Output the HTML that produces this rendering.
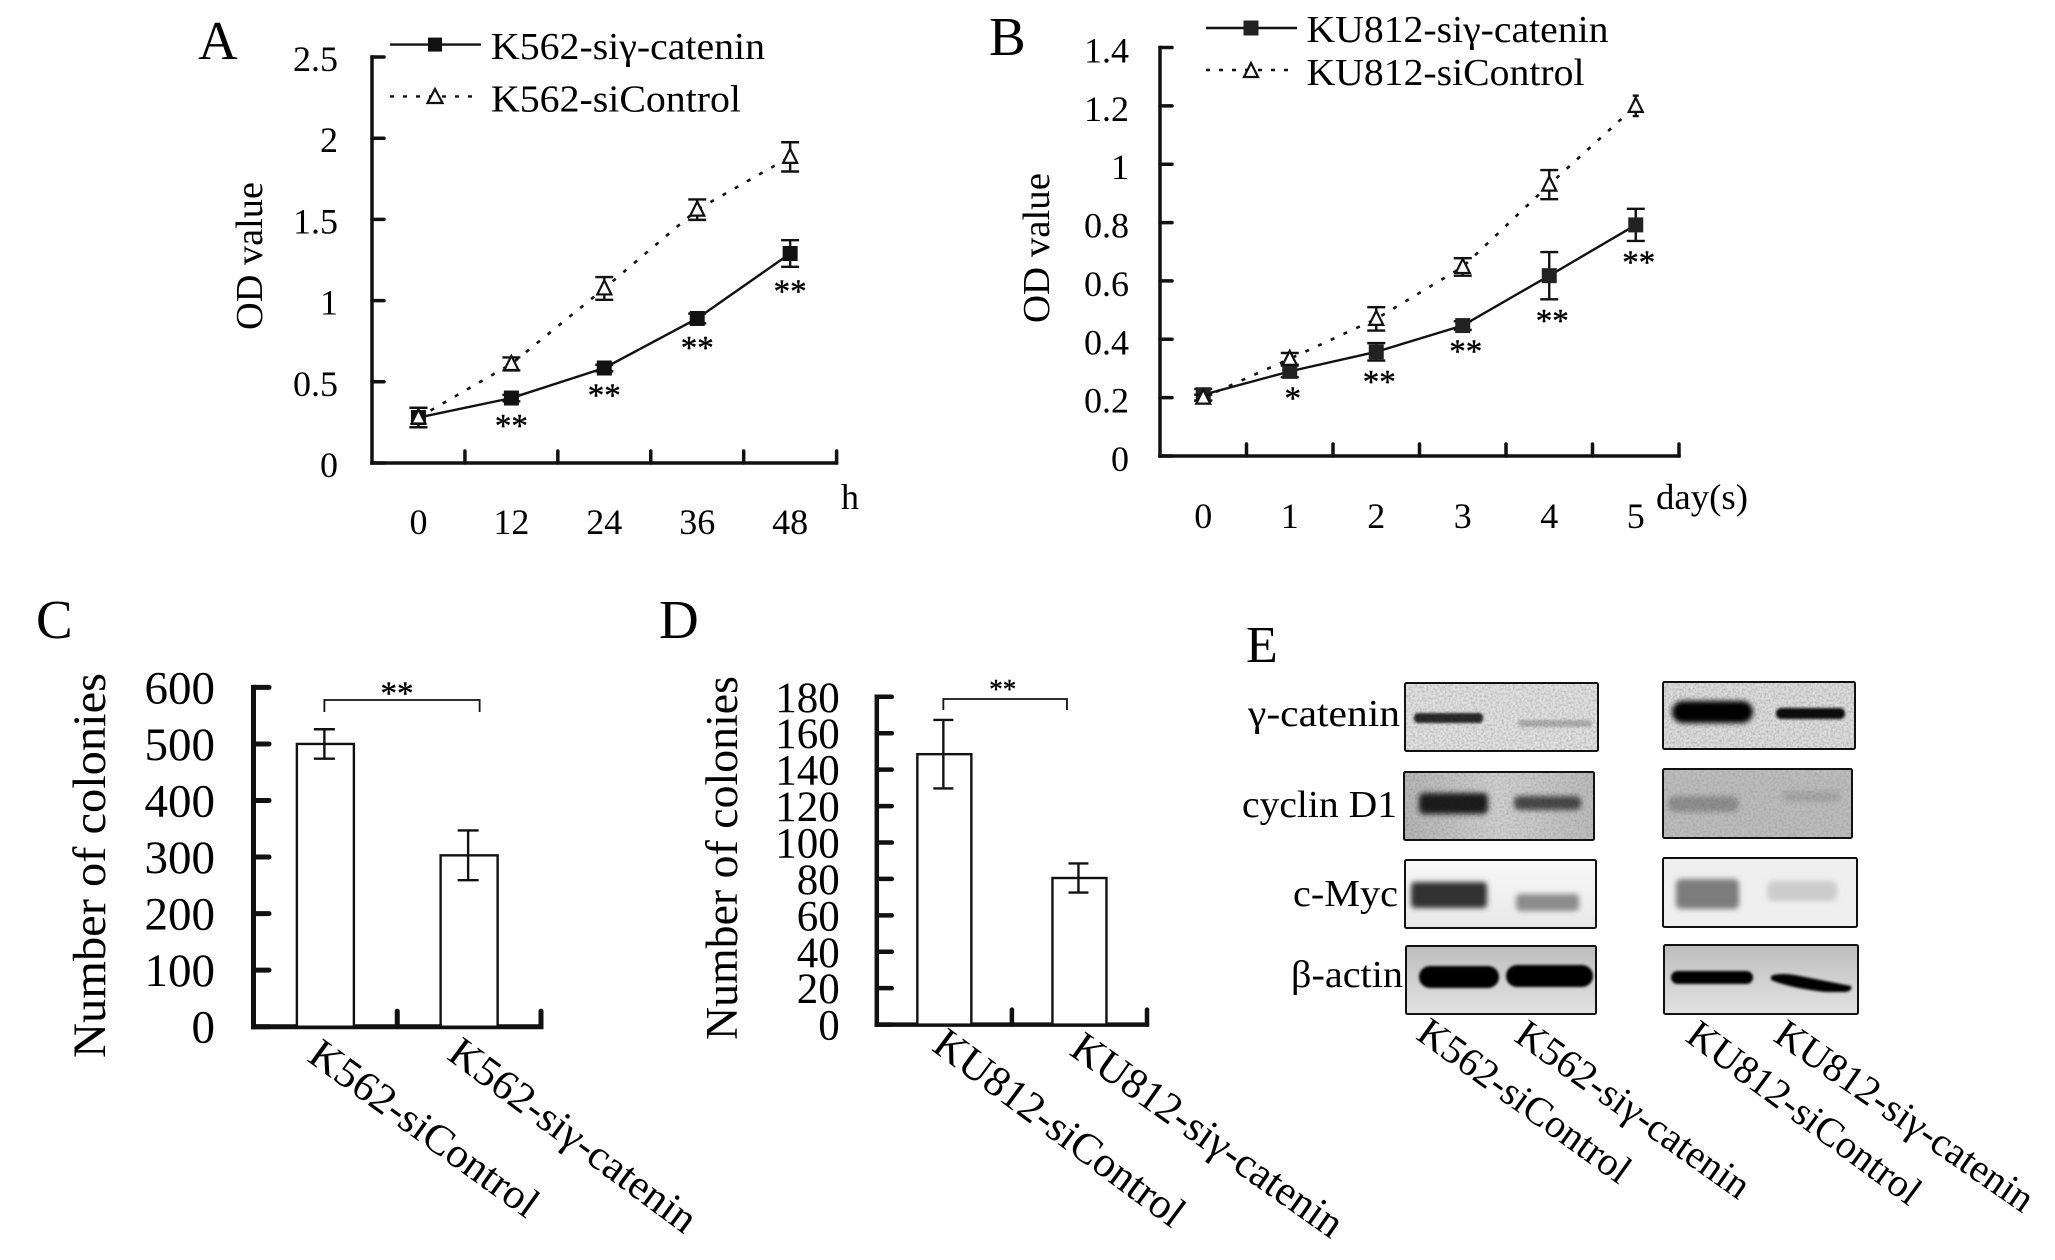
<!DOCTYPE html>
<html lang="en">
<head>
<meta charset="utf-8">
<title>γ-catenin knockdown figure</title>
<style>
html,body{margin:0;padding:0;background:#fff;}
svg{display:block;}
text{font-family:"Liberation Serif",serif;fill:#000;}
</style>
</head>
<body>
<svg id="figure" xmlns="http://www.w3.org/2000/svg" width="2055" height="1260" viewBox="0 0 2055 1260">
  <defs>
    <filter id="blur-strong" x="-30%" y="-80%" width="160%" height="260%"><feGaussianBlur stdDeviation="2.6"/></filter>
    <filter id="blur-soft" x="-30%" y="-80%" width="160%" height="260%"><feGaussianBlur stdDeviation="1.4"/></filter>
    <filter id="grain" x="0" y="0" width="100%" height="100%">
      <feTurbulence type="fractalNoise" baseFrequency="0.45" numOctaves="2" seed="7"/>
      <feColorMatrix type="matrix" values="0 0 0 0 0  0 0 0 0 0  0 0 0 0 0  0 0 0 1.1 -0.42"/>
      <feComposite in2="SourceGraphic" operator="in"/>
    </filter>
    <linearGradient id="actin-bg" x1="0" y1="0" x2="0" y2="1"><stop offset="0" stop-color="#bdbdbd"/><stop offset="0.5" stop-color="#d0d0d0"/><stop offset="1" stop-color="#e2e2e2"/></linearGradient>
    <linearGradient id="myc-bg" x1="0" y1="0" x2="0" y2="1"><stop offset="0" stop-color="#f8f8f8"/><stop offset="1" stop-color="#e8e8e8"/></linearGradient>
    <linearGradient id="cyclin-bg" x1="0" y1="0" x2="1" y2="0"><stop offset="0" stop-color="#b4b4b4"/><stop offset="0.5" stop-color="#cfcfcf"/><stop offset="1" stop-color="#bcbcbc"/></linearGradient>
  </defs>

  <text x="198" y="59" font-size="55">A</text>
  <text x="989" y="55" font-size="55">B</text>
  <text x="36" y="638" font-size="55">C</text>
  <text x="659" y="638" font-size="55">D</text>
  <text x="1246" y="662" font-size="52">E</text>

  <g id="panel-a">
    <text transform="translate(262 330) rotate(-90)" font-size="38" textLength="148" lengthAdjust="spacingAndGlyphs">OD value</text>
    <text x="841" y="509" font-size="36">h</text>
    <g>
      <line x1="390" y1="44.6" x2="481" y2="44.6" stroke="#111" stroke-width="2.4"/>
      <rect x="428" y="37.6" width="14" height="14" fill="#111"/>
      <text x="491" y="59" font-size="38" textLength="274" lengthAdjust="spacingAndGlyphs">K562-siγ-catenin</text>
      <line x1="390" y1="96.4" x2="481" y2="96.4" stroke="#111" stroke-width="2.4" stroke-dasharray="4 9"/>
      <polygon points="435,89 442.5,103 427.5,103" fill="#fff" stroke="#111" stroke-width="2.2"/>
      <text x="491" y="111.5" font-size="38" textLength="250" lengthAdjust="spacingAndGlyphs">K562-siControl</text>
    </g>
  </g>

  <g id="panel-b">
    <text transform="translate(1049 323) rotate(-90)" font-size="38" textLength="150" lengthAdjust="spacingAndGlyphs">OD value</text>
    <text x="1656" y="509" font-size="36" textLength="92" lengthAdjust="spacingAndGlyphs">day(s)</text>
    <g>
      <line x1="1206" y1="28" x2="1297" y2="28" stroke="#111" stroke-width="2.4"/>
      <rect x="1243.5" y="20.5" width="15" height="15" fill="#222"/>
      <text x="1306.5" y="42" font-size="38" textLength="302" lengthAdjust="spacingAndGlyphs">KU812-siγ-catenin</text>
      <line x1="1206" y1="70" x2="1297" y2="70" stroke="#111" stroke-width="2.4" stroke-dasharray="4 9"/>
      <polygon points="1251,63 1258,77 1244,77" fill="#fff" stroke="#111" stroke-width="2.2"/>
      <text x="1306.5" y="85" font-size="38" textLength="278" lengthAdjust="spacingAndGlyphs">KU812-siControl</text>
    </g>
  </g>

  <g id="panel-c">
    <text transform="translate(105 1058) rotate(-90)" font-size="47" textLength="385" lengthAdjust="spacingAndGlyphs">Number of colonies</text>
  </g>

  <g id="panel-d">
    <text transform="translate(737 1040) rotate(-90)" font-size="45" textLength="364" lengthAdjust="spacingAndGlyphs">Number of colonies</text>
  </g>

  <g id="panel-e">
    <text x="1248" y="726" font-size="38" textLength="152" lengthAdjust="spacingAndGlyphs">γ-catenin</text>
    <text x="1242" y="817" font-size="38" textLength="155" lengthAdjust="spacingAndGlyphs">cyclin D1</text>
    <text x="1293" y="906" font-size="38" textLength="105" lengthAdjust="spacingAndGlyphs">c-Myc</text>
    <text x="1291" y="987" font-size="38" textLength="112" lengthAdjust="spacingAndGlyphs">β-actin</text>

    <g>
      <rect x="1405" y="683" width="193" height="68" fill="#e0e0e0"/>
      <rect x="1414" y="713" width="69" height="10" rx="4" fill="#2a2a2a" filter="url(#blur-soft)"/>
      <rect x="1518" y="720" width="74" height="7" rx="3" fill="#b0b0b0" filter="url(#blur-soft)"/>
      <rect x="1405" y="683" width="193" height="68" fill="#000" opacity="0.35" filter="url(#grain)"/>
      <rect x="1405" y="683" width="193" height="68" rx="1.5" fill="none" stroke="#111" stroke-width="2"/>
    </g>
    <g>
      <rect x="1404" y="772" width="190" height="68" fill="url(#cyclin-bg)"/>
      <rect x="1419" y="793" width="69" height="21" rx="5" fill="#1c1c1c" filter="url(#blur-strong)"/>
      <rect x="1514" y="796" width="67" height="14" rx="5" fill="#4a4a4a" filter="url(#blur-strong)"/>
      <rect x="1404" y="772" width="190" height="68" fill="#000" opacity="0.25" filter="url(#grain)"/>
      <rect x="1404" y="772" width="190" height="68" rx="1.5" fill="none" stroke="#111" stroke-width="2"/>
    </g>
    <g>
      <rect x="1405" y="860" width="191" height="68" fill="url(#myc-bg)"/>
      <rect x="1411" y="882" width="76" height="26" rx="4" fill="#333" filter="url(#blur-strong)"/>
      <rect x="1516" y="894" width="63" height="17" rx="4" fill="#8c8c8c" filter="url(#blur-strong)"/>
      <rect x="1405" y="860" width="191" height="68" rx="1.5" fill="none" stroke="#111" stroke-width="2"/>
    </g>
    <g>
      <rect x="1406" y="946" width="190" height="68" fill="url(#actin-bg)"/>
      <rect x="1419" y="966" width="80" height="22" rx="11" fill="#000" filter="url(#blur-soft)"/>
      <rect x="1506" y="965" width="87" height="22" rx="11" fill="#000" filter="url(#blur-soft)"/>
      <rect x="1406" y="946" width="190" height="68" rx="1.5" fill="none" stroke="#111" stroke-width="2"/>
    </g>

    <g>
      <rect x="1663" y="682" width="192" height="67" fill="#dcdcdc"/>
      <rect x="1672" y="701" width="81" height="22" rx="11" fill="#000" filter="url(#blur-strong)"/>
      <rect x="1776" y="708" width="69" height="11" rx="5" fill="#111" filter="url(#blur-soft)"/>
      <rect x="1663" y="682" width="192" height="67" fill="#000" opacity="0.35" filter="url(#grain)"/>
      <rect x="1663" y="682" width="192" height="67" rx="1.5" fill="none" stroke="#111" stroke-width="2"/>
    </g>
    <g>
      <rect x="1663" y="769" width="189" height="69" fill="#bcbcbc"/>
      <rect x="1668" y="796" width="71" height="16" rx="7" fill="#8e8e8e" filter="url(#blur-strong)"/>
      <rect x="1783" y="791" width="57" height="11" rx="5" fill="#a6a6a6" filter="url(#blur-strong)"/>
      <rect x="1663" y="769" width="189" height="69" fill="#000" opacity="0.2" filter="url(#grain)"/>
      <rect x="1663" y="769" width="189" height="69" rx="1.5" fill="none" stroke="#111" stroke-width="2"/>
    </g>
    <g>
      <rect x="1663" y="858" width="194" height="69" fill="#efefef"/>
      <rect x="1676" y="879" width="63" height="30" rx="5" fill="#7c7c7c" filter="url(#blur-strong)"/>
      <rect x="1767" y="881" width="70" height="20" rx="6" fill="#cccccc" filter="url(#blur-strong)"/>
      <rect x="1663" y="858" width="194" height="69" rx="1.5" fill="none" stroke="#111" stroke-width="2"/>
    </g>
    <g>
      <rect x="1664" y="945" width="194" height="69" fill="url(#actin-bg)"/>
      <rect x="1671" y="971" width="82" height="13" rx="6.5" fill="#000" filter="url(#blur-soft)"/>
      <path d="M1771 976 Q1780 972 1800 976 L1851 986 Q1853 991 1845 992 L1825 992 Q1790 988 1771 980 Z" fill="#000" filter="url(#blur-soft)"/>
      <rect x="1664" y="945" width="194" height="69" rx="1.5" fill="none" stroke="#111" stroke-width="2"/>
    </g>

    <text transform="translate(1414.6 1038) rotate(35.7)" font-size="40" textLength="252" lengthAdjust="spacingAndGlyphs">K562-siControl</text>
    <text transform="translate(1512.8 1040) rotate(35.4)" font-size="40" textLength="277" lengthAdjust="spacingAndGlyphs">K562-siγ-catenin</text>
    <text transform="translate(1684 1040) rotate(36.5)" font-size="40" textLength="280" lengthAdjust="spacingAndGlyphs">KU812-siControl</text>
    <text transform="translate(1772 1040) rotate(34.7)" font-size="40" textLength="305" lengthAdjust="spacingAndGlyphs">KU812-siγ-catenin</text>
  </g>
</svg>

<script>
const panelACategories = ['0', '12', '24', '36', '48'];
const panelAYTicks = [0, 0.5, 1, 1.5, 2, 2.5];
const panelASiValues = [0.28, 0.40, 0.585, 0.89, 1.29];
const panelASiErrors = [0.06, 0.02, 0.02, 0.03, 0.082];
const panelAControlValues = [0.28, 0.61, 1.075, 1.56, 1.885];
const panelAControlErrors = [0.06, 0.04, 0.07, 0.063, 0.09];
const panelASignificance = ['', '**', '**', '**', '**'];

const panelBCategories = ['0', '1', '2', '3', '4', '5'];
const panelBYTicks = [0, 0.2, 0.4, 0.6, 0.8, 1, 1.2, 1.4];
const panelBSiValues = [0.21, 0.29, 0.357, 0.447, 0.618, 0.792];
const panelBSiErrors = [0.02, 0.02, 0.03, 0.015, 0.081, 0.055];
const panelBControlValues = [0.2, 0.333, 0.47, 0.648, 0.93, 1.2];
const panelBControlErrors = [0.01, 0.02, 0.04, 0.03, 0.05, 0.035];
const panelBSignificance = ['', '*', '**', '**', '**', '**'];

const panelCCategories = ['K562-siControl', 'K562-siγ-catenin'];
const panelCYTicks = [0, 100, 200, 300, 400, 500, 600];
const panelCValues = [500, 303];
const panelCErrors = [26, 44];

const panelDCategories = ['KU812-siControl', 'KU812-siγ-catenin'];
const panelDYTicks = [0, 20, 40, 60, 80, 100, 120, 140, 160, 180];
const panelDValues = [148.5, 80.5];
const panelDErrors = [18.8, 8];

const SVG_NS = 'http://www.w3.org/2000/svg';

function make(parent, tag, attrs, content) {
  const node = document.createElementNS(SVG_NS, tag);
  Object.keys(attrs).forEach(function (key) { node.setAttribute(key, attrs[key]); });
  if (content !== undefined) node.textContent = content;
  parent.appendChild(node);
  return node;
}

function linearY(cfg) {
  const span = cfg.yBase - cfg.yTop;
  const maxTick = cfg.yTicks[cfg.yTicks.length - 1];
  return function (v) { return cfg.yBase - (v / maxTick) * span; };
}

function drawAxes(parent, cfg, y, prefix) {
  const n = cfg.categories.length;
  const band = (cfg.x1 - cfg.x0) / n;

  const yAxis = make(parent, 'line', { x1: cfg.x0, y1: cfg.yTop, x2: cfg.x0, y2: cfg.yBase, stroke: '#111', 'stroke-width': cfg.axisWidth, 'stroke-linecap': 'square' });
  
  

  const xAxis = make(parent, 'line', { x1: cfg.x0, y1: cfg.yBase, x2: cfg.x1, y2: cfg.yBase, stroke: '#111', 'stroke-width': cfg.axisWidth, 'stroke-linecap': 'square' });
  
  

  cfg.yTicks.forEach(function (t) {
    const mark = make(parent, 'line', { x1: cfg.x0, y1: y(t), x2: cfg.x0 + cfg.tickLength, y2: y(t), stroke: '#111', 'stroke-width': cfg.axisWidth, 'stroke-linecap': 'round' });
    
    

    const label = make(parent, 'text', { x: cfg.labelRight, y: y(t) + cfg.labelDrop, 'font-size': cfg.tickFont, 'text-anchor': 'end' }, String(t));
    
    
  });

  for (let i = 1; i <= n; i++) {
    const tx = cfg.x0 + band * i;
    const mark = make(parent, 'line', { x1: tx, y1: cfg.yBase, x2: tx, y2: cfg.yBase - cfg.tickLength, stroke: '#111', 'stroke-width': cfg.axisWidth, 'stroke-linecap': 'round' });
    
    
  }
  return band;
}

function drawErrorBar(parent, cx, top, bottom, capHalf, name) {
  const group = make(parent, 'g', {});
  
  
  make(group, 'line', { x1: cx, y1: top, x2: cx, y2: bottom, stroke: '#111', 'stroke-width': 2.4 });
  make(group, 'line', { x1: cx - capHalf, y1: top, x2: cx + capHalf, y2: top, stroke: '#111', 'stroke-width': 2.4 });
  make(group, 'line', { x1: cx - capHalf, y1: bottom, x2: cx + capHalf, y2: bottom, stroke: '#111', 'stroke-width': 2.4 });
}

function drawLineChart(cfg) {
  const parent = document.getElementById(cfg.rootId);
  const y = linearY(cfg);
  const band = drawAxes(parent, cfg, y, cfg.prefix);
  const x = function (i) { return cfg.x0 + band * (i + 0.5); };

  cfg.categories.forEach(function (c, i) {
    const label = make(parent, 'text', { x: x(i), y: cfg.xLabelY, 'font-size': cfg.tickFont, 'text-anchor': 'middle' }, c);
    
    
  });

  const siPoints = cfg.siValues.map(function (v, i) { return x(i) + ',' + y(v); }).join(' ');
  const siLine = make(parent, 'polyline', { points: siPoints, fill: 'none', stroke: '#111', 'stroke-width': 2.4 });
  
  

  const controlPoints = cfg.controlValues.map(function (v, i) { return x(i) + ',' + y(v); }).join(' ');
  const controlLine = make(parent, 'polyline', { points: controlPoints, fill: 'none', stroke: '#111', 'stroke-width': 2.6, 'stroke-dasharray': '4 10' });
  
  

  cfg.siValues.forEach(function (v, i) {
    drawErrorBar(parent, x(i), y(v + cfg.siErrors[i]), y(v - cfg.siErrors[i]), 9, cfg.prefix + '-si-gamma-error-bar');
    const point = make(parent, 'rect', { x: x(i) - 7.5, y: y(v) - 7.5, width: 15, height: 15, fill: cfg.squareFill });
    
    

    if (cfg.significance[i]) {
      const star = make(parent, 'text', { x: x(i) + cfg.starShift, y: y(v - cfg.siErrors[i]) + cfg.starGap + 15, 'font-size': 33, 'text-anchor': 'middle', stroke: '#000', 'stroke-width': 0.4 }, cfg.significance[i]);
      
      
    }
  });

  cfg.controlValues.forEach(function (v, i) {
    const capHalf = i === cfg.narrowCapIndex ? 3 : 9;
    drawErrorBar(parent, x(i), y(v + cfg.controlErrors[i]), y(v - cfg.controlErrors[i]), capHalf, cfg.prefix + '-control-error-bar');
    const cx = x(i);
    const cy = y(v);
    const point = make(parent, 'polygon', { points: cx + ',' + (cy - 8) + ' ' + (cx + 7) + ',' + (cy + 6) + ' ' + (cx - 7) + ',' + (cy + 6), fill: '#fff', stroke: '#111', 'stroke-width': 2.2 });
    
    
  });
}

function drawBarChart(cfg) {
  const parent = document.getElementById(cfg.rootId);
  const y = linearY(cfg);
  const band = drawAxes(parent, cfg, y, cfg.prefix);
  const x = function (i) { return cfg.x0 + band * (i + 0.5); };

  cfg.values.forEach(function (v, i) {
    const bar = make(parent, 'rect', { x: x(i) - cfg.barWidth / 2, y: y(v), width: cfg.barWidth, height: cfg.yBase - y(v), fill: '#fff', stroke: '#111', 'stroke-width': 2.4 });
    
    
    drawErrorBar(parent, x(i) - 1, y(v + cfg.errors[i]), y(v - cfg.errors[i]), cfg.capHalf, cfg.prefix + '-error-bar');

    const label = make(parent, 'text', { 'font-size': cfg.categoryFont, textLength: cfg.categoryLengths[i], lengthAdjust: 'spacingAndGlyphs', transform: 'translate(' + (x(i) + cfg.categoryDx[i]) + ' ' + cfg.categoryY[i] + ') rotate(' + cfg.categoryAngle[i] + ')' }, cfg.categories[i]);
    
    
  });

  const b = cfg.bracket;
  const xa = x(0) - 1;
  const xb = x(1) + b.rightShift;
  const bracket = make(parent, 'path', { d: 'M' + xa + ' ' + (b.y + b.drop) + ' V' + b.y + ' H' + xb + ' V' + (b.y + b.drop), fill: 'none', stroke: '#111', 'stroke-width': 1.8 });
  
  

  const stars = make(parent, 'text', { x: b.starX, y: b.starY, 'font-size': b.starFont, 'text-anchor': 'middle', stroke: '#000', 'stroke-width': 0.4 }, '**');
  
  
}

drawLineChart({
  rootId: 'panel-a', prefix: 'panel-a',
  x0: 372, x1: 836.6, yBase: 463, yTop: 57,
  axisWidth: 3.5, tickLength: 12, tickFont: 36, labelRight: 338, labelDrop: 14, xLabelY: 534,
  squareFill: '#111', starShift: 0, starGap: 20, narrowCapIndex: -1,
  categories: panelACategories, yTicks: panelAYTicks,
  siValues: panelASiValues, siErrors: panelASiErrors,
  controlValues: panelAControlValues, controlErrors: panelAControlErrors,
  significance: panelASignificance
});

drawLineChart({
  rootId: 'panel-b', prefix: 'panel-b',
  x0: 1160, x1: 1679, yBase: 456, yTop: 47.5,
  axisWidth: 3.5, tickLength: 12, tickFont: 36, labelRight: 1129, labelDrop: 15, xLabelY: 528,
  squareFill: '#222', starShift: 3, starGap: 17, narrowCapIndex: 5,
  categories: panelBCategories, yTicks: panelBYTicks,
  siValues: panelBSiValues, siErrors: panelBSiErrors,
  controlValues: panelBControlValues, controlErrors: panelBControlErrors,
  significance: panelBSignificance
});

drawBarChart({
  rootId: 'panel-c', prefix: 'panel-c',
  x0: 253.5, x1: 541, yBase: 1026.7, yTop: 687.4,
  axisWidth: 5, tickLength: 15.5, tickFont: 47, labelRight: 215, labelDrop: 16,
  barWidth: 57, capHalf: 10.5,
  categories: panelCCategories, yTicks: panelCYTicks,
  values: panelCValues, errors: panelCErrors,
  categoryFont: 42, categoryLengths: [272, 297], categoryAngle: [35.8, 36.5],
  categoryDx: [-19.5, -23.5], categoryY: [1060, 1058],
  bracket: { y: 700, drop: 12, rightShift: 10.5, starX: 397, starY: 704, starFont: 33 }
});

drawBarChart({
  rootId: 'panel-d', prefix: 'panel-d',
  x0: 876.8, x1: 1147, yBase: 1024.6, yTop: 696.8,
  axisWidth: 4.5, tickLength: 15, tickFont: 43, labelRight: 839.7, labelDrop: 15,
  barWidth: 54, capHalf: 10,
  categories: panelDCategories, yTicks: panelDYTicks,
  values: panelDValues, errors: panelDErrors,
  categoryFont: 43, categoryLengths: [301, 322], categoryAngle: [36.6, 35.2],
  categoryDx: [-14, -11.5], categoryY: [1049.4, 1053.7],
  bracket: { y: 699, drop: 11, rightShift: -12.5, starX: 1002.7, starY: 698, starFont: 27 }
});
</script>
</body>
</html>
